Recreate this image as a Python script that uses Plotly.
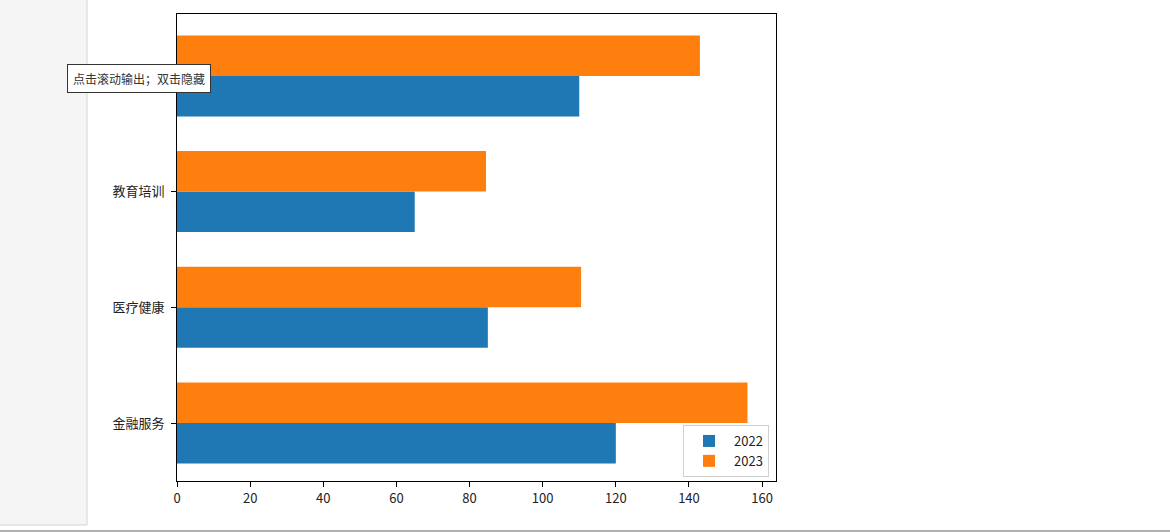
import plotly.graph_objects as go

categories = ["金融服务", "医疗健康", "教育培训", "互联网科技"]
values_2022 = [120, 85, 65, 110]
values_2023 = [156, 110.5, 84.5, 143]
series_names = ["2022", "2023"]
x_ticks = [0, 20, 40, 60, 80, 100, 120, 140, 160]

W, H = 1170, 532
L, R, T, B = 177, 776, 14, 481
pw, ph = R - L, B - T


def px(x):
    return (x - L) / pw


def py(y):
    return 1 - (y - T) / ph


fig = go.Figure()
fig.add_trace(go.Bar(y=categories, x=values_2022, orientation="h", name=series_names[0],
                     marker=dict(color="#1f77b4", line=dict(width=0))))
fig.add_trace(go.Bar(y=categories, x=values_2023, orientation="h", name=series_names[1],
                     marker=dict(color="#ff7f0e", line=dict(width=0))))

font = "Noto Sans CJK SC, DejaVu Sans, sans-serif"

fig.update_layout(
    width=W, height=H,
    margin=dict(l=L, r=W - R, t=T, b=H - B, pad=0),
    barmode="group", bargap=0.3, bargroupgap=0,
    plot_bgcolor="white", paper_bgcolor="white",
    font=dict(family=font, size=12, color="#222"),
    showlegend=True,
    legend=dict(x=px(769), y=py(477), xanchor="right", yanchor="bottom",
                bgcolor="white", bordercolor="#d0d0d0", borderwidth=1,
                font=dict(size=13, color="#222"), tracegroupgap=0, itemwidth=40),
    xaxis=dict(range=[0, 163.8], tickvals=x_ticks, showgrid=False, zeroline=False,
               showline=True, mirror=True, linecolor="black", linewidth=1,
               ticks="outside", ticklen=5, tickcolor="black", tickfont=dict(size=13)),
    yaxis=dict(type="category", range=[-0.501, 3.535], showgrid=False, zeroline=False,
               showline=True, mirror=True, linecolor="black", linewidth=1,
               ticks="outside", ticklen=5, tickcolor="black", tickfont=dict(size=13),
               ticklabelstandoff=4),
    shapes=[
        dict(type="rect", xref="paper", yref="paper", x0=px(-2), x1=px(87), y0=py(525), y1=py(-2),
             fillcolor="#f5f5f5", line=dict(color="#d4d4d4", width=1), layer="above"),
        dict(type="line", xref="paper", yref="paper", x0=px(0), x1=px(1170), y0=py(531), y1=py(531),
             line=dict(color="#b0b0b0", width=2), layer="above"),
    ],
    annotations=[
        dict(text="点击滚动输出；双击隐藏", xref="paper", yref="paper", x=px(139), y=py(79),
             xanchor="center", yanchor="middle", showarrow=False,
             font=dict(size=12, color="#333", family=font),
             bgcolor="white", bordercolor="#333", borderwidth=1, borderpad=5),
    ],
)

fig.write_html("out.html", config={"displayModeBar": False},
               post_script="document.body.style.margin='0';document.body.style.overflow='hidden';")
